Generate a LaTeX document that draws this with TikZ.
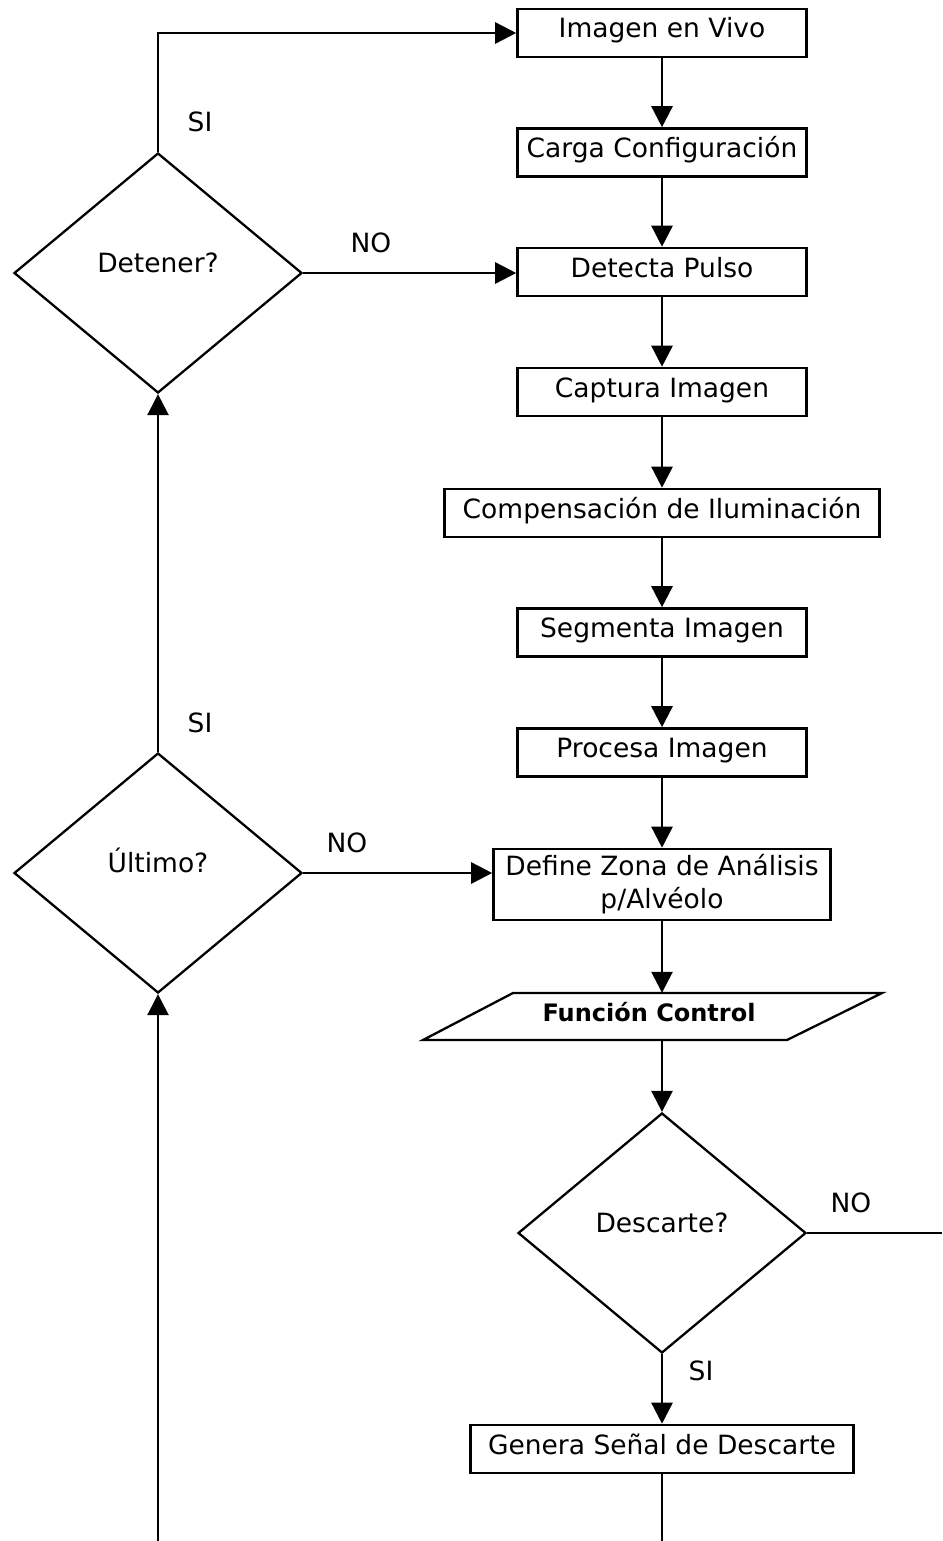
\documentclass[tikz,border=0pt]{standalone}
\usepackage{fontspec}
\setmainfont{DejaVu Sans}
\usetikzlibrary{arrows.meta,shapes.geometric}
\begin{document}
\begin{tikzpicture}[x=1pt,y=-1pt,
  every node/.style={font=\fontsize{26.5}{33}\selectfont},
  flowbox/.style={draw,line width=2.6pt,rectangle,inner sep=0pt,align=center},
  onebox/.style={flowbox,minimum height=48pt,text height=19pt,text depth=9pt},
  decision/.style={draw,line width=2.3pt,diamond,inner sep=0pt,minimum width=288pt,minimum height=240pt,text height=19pt,text depth=20pt},
  lbl/.style={inner sep=0pt,text height=19pt,text depth=0pt},
  conn/.style={line width=2.6pt},
  arr/.style={conn,-{Triangle[length=21pt,width=21pt]}}
]
\useasboundingbox (0,0) rectangle (942,1541);

% process boxes
\node[onebox,minimum width=289pt] (imagen)   at (662,33)    {Imagen en Vivo};
\node[onebox,minimum width=289pt] (carga)    at (662,152.5) {Carga Configuración};
\node[onebox,minimum width=289pt] (detecta)  at (662,272)   {Detecta Pulso};
\node[onebox,minimum width=289pt] (captura)  at (662,392)   {Captura Imagen};
\node[onebox,minimum width=435pt] (compens)  at (662,513)   {Compensación de Iluminación};
\node[onebox,minimum width=289pt] (segmenta) at (662,632.5) {Segmenta Imagen};
\node[onebox,minimum width=289pt] (procesa)  at (662,752.5) {Procesa Imagen};
\node[flowbox,minimum width=337pt,minimum height=71pt] (define) at (662,884.5) {Define Zona de Análisis\\p/Alvéolo};

% function control (parallelogram)
\draw[line width=2.3pt] (513,993) -- (882,993) -- (787,1040) -- (423,1040) -- cycle;
\node[inner sep=0pt,minimum height=47pt,text height=19pt,text depth=9pt,font=\fontsize{24}{30}\selectfont\bfseries] (fc) at (649,1016.5) {Función Control};

% decisions
\node[decision] (detener)  at (158,273)  {Detener?};
\node[decision] (ultimo)   at (158,873)  {Último?};
\node[decision] (descarte) at (662,1233) {Descarte?};

\node[onebox,minimum width=383pt] (genera) at (662,1449) {Genera Señal de Descarte};

% free ends
\coordinate (rightend) at (942,1233);
\coordinate (botleft) at (158,1541);
\coordinate (botright) at (662,1541);

% main chain
\draw[arr] (imagen) -- (carga);
\draw[arr] (carga) -- (detecta);
\draw[arr] (detecta) -- (captura);
\draw[arr] (captura) -- (compens);
\draw[arr] (compens) -- (segmenta);
\draw[arr] (segmenta) -- (procesa);
\draw[arr] (procesa) -- (define);
\draw[arr] (define.south) -- (define.south |- fc.north);
\draw[arr] (define.south |- fc.south) -- (descarte.north);
\draw[arr] (descarte.south) -- (genera.north);
\draw[conn] (descarte.east) -- (rightend);
\draw[conn] (genera.south) -- (botright);

% left loop
\draw[arr] (botleft) -- (ultimo.south);
\draw[arr] (ultimo.north) -- (detener.south);
\draw[arr] (ultimo.east) -- (ultimo.east -| define.west);
\draw[arr] (detener.east) -- (detener.east -| detecta.west);
\draw[arr] (detener.north) |- (imagen.west);

% labels
\node[lbl] (siA) at (200,122.5)  {SI};
\node[lbl] (noA) at (371,242.5)  {NO};
\node[lbl] (siB) at (200,722.5)  {SI};
\node[lbl] (noB) at (347,842.5)  {NO};
\node[lbl] (noC) at (851,1202.5) {NO};
\node[lbl] (siC) at (701,1371)   {SI};
\end{tikzpicture}
\end{document}
